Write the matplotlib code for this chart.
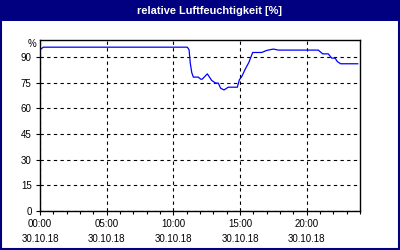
import matplotlib
matplotlib.use("Agg")
import matplotlib.pyplot as plt
from matplotlib.patches import Rectangle

# data (hours since 00:00 on 30.10.18, relative humidity %)
hours = [0.05, 0.25, 11.05, 11.18, 11.27, 11.38, 11.5, 11.87, 12.05, 12.17, 12.55,
         12.88, 13.18, 13.37, 13.55, 13.8, 14.12, 14.8, 14.95, 15.13, 15.37, 15.67,
         15.95, 16.63, 17.0, 17.5, 17.87, 20.87, 21.2, 21.62, 21.88, 22.13, 22.3,
         22.55, 23.83]
humidity = [94.6, 95.8, 95.8, 94.3, 86.5, 81.0, 78.3, 78.3, 77.1, 77.1, 80.2,
            76.3, 74.8, 74.8, 71.8, 70.8, 72.4, 72.4, 76.7, 78.6, 82.6, 87.0,
            92.7, 92.7, 93.9, 94.7, 94.1, 94.1, 91.9, 91.9, 89.4, 89.4, 87.4,
            86.1, 86.1]

x_ticks = [0, 5, 10, 15, 20]
x_labels = ["00:00\n30.10.18", "05:00\n30.10.18", "10:00\n30.10.18",
            "15:00\n30.10.18", "20:00\n30.10.18"]
y_ticks = [0, 15, 30, 45, 60, 75, 90]
title = "relative Luftfeuchtigkeit [%]"

navy = "#000080"
W, H = 400, 250
plt.rcParams["font.family"] = ["Liberation Sans", "DejaVu Sans"]

fig = plt.figure(figsize=(4, 2.5), dpi=100)
fig.patch.set_facecolor("white")

# title bar and frame
fig.patches.append(Rectangle((0, 1 - 20.5 / H), 1, 20.5 / H, transform=fig.transFigure,
                             facecolor=navy, edgecolor="none", zorder=0))
fig.patches.append(Rectangle((1 / W, 1 / H), 1 - 2 / W, 1 - 2 / H, transform=fig.transFigure,
                             facecolor="none", edgecolor=navy, linewidth=1.5, zorder=5))
fig.text(209.5 / W, 1 - 10.5 / H, title, color="white", fontweight="bold",
         fontsize=7.9, ha="center", va="center")

ax = fig.add_axes([40 / W, 1 - 211 / H, 320 / W, 171 / H])
ax.plot(hours, humidity, color="#0000ff", linewidth=0.9)
ax.set_xlim(0, 24)
ax.set_ylim(0, 100)

ax.set_xticks(x_ticks)
ax.set_xticklabels(x_labels, fontsize=7, linespacing=1.55)
ax.set_xticks(range(0, 25), minor=True)
ax.set_yticks(y_ticks)
ax.set_yticklabels([str(v) for v in y_ticks], fontsize=7)
ax.tick_params(axis="both", which="major", length=3, width=0.8, pad=3, colors="black")
ax.tick_params(axis="x", which="minor", length=2, width=0.8)
ax.text(-0.012, 97.5, "%", transform=ax.get_yaxis_transform(), ha="right",
        va="center", fontsize=7)

ax.grid(True, which="major", color="black", linestyle=(0, (3, 3)), linewidth=0.8)
for s in ax.spines.values():
    s.set_linewidth(1.0)

fig.savefig("out.png", dpi=100)
